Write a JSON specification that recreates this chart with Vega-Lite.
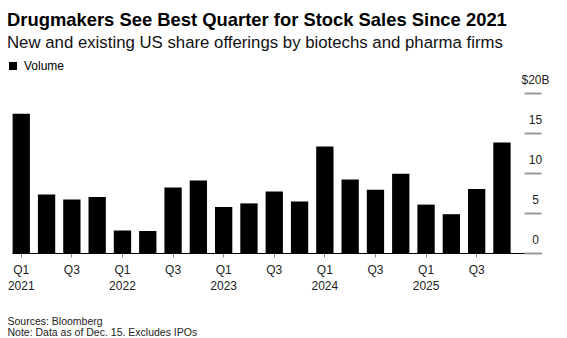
{
  "$schema": "https://vega.github.io/schema/vega-lite/v6.json",
  "width": 529,
  "height": 160,
  "autosize": {"type": "none"},
  "padding": {"left": 12, "top": 93, "right": 26, "bottom": 85},
  "background": "white",
  "config": {"view": {"stroke": null}},
  "title": {
    "text": "Drugmakers See Best Quarter for Stock Sales Since 2021",
    "subtitle": "New and existing US share offerings by biotechs and pharma firms",
    "anchor": "start",
    "frame": "group",
    "font": "Liberation Sans",
    "fontSize": 18.4,
    "fontWeight": "bold",
    "color": "#000000",
    "subtitleFont": "Liberation Sans",
    "subtitleFontSize": 16.8,
    "subtitleColor": "#111111",
    "subtitlePadding": 6,
    "dx": -5,
    "offset": 8
  },
  "data": {
    "values": [
      {"q": "2021 Q1", "v": 17.4},
      {"q": "2021 Q2", "v": 7.3},
      {"q": "2021 Q3", "v": 6.7},
      {"q": "2021 Q4", "v": 7.0},
      {"q": "2022 Q1", "v": 2.8},
      {"q": "2022 Q2", "v": 2.75},
      {"q": "2022 Q3", "v": 8.2},
      {"q": "2022 Q4", "v": 9.05},
      {"q": "2023 Q1", "v": 5.75},
      {"q": "2023 Q2", "v": 6.2},
      {"q": "2023 Q3", "v": 7.7},
      {"q": "2023 Q4", "v": 6.45},
      {"q": "2024 Q1", "v": 13.3},
      {"q": "2024 Q2", "v": 9.2},
      {"q": "2024 Q3", "v": 7.9},
      {"q": "2024 Q4", "v": 9.9},
      {"q": "2025 Q1", "v": 6.05},
      {"q": "2025 Q2", "v": 4.85},
      {"q": "2025 Q3", "v": 8.0},
      {"q": "2025 Q4", "v": 13.8}
    ]
  },
  "mark": {"type": "bar", "fill": "#000000"},
  "encoding": {
    "x": {
      "field": "q",
      "type": "ordinal",
      "sort": null,
      "scale": {"paddingInner": 0.316, "paddingOuter": 0.613, "align": 0.02},
      "axis": {
        "values": ["2021 Q1", "2021 Q3", "2022 Q1", "2022 Q3", "2023 Q1", "2023 Q3", "2024 Q1", "2024 Q3", "2025 Q1", "2025 Q3"],
        "labelExpr": "substring(datum.value, 5) == 'Q1' ? ['Q1', substring(datum.value, 0, 4)] : 'Q3'",
        "labelAngle": 0,
        "domainColor": "#000000",
        "domainWidth": 1.2,
        "tickSize": 4,
        "tickColor": "#888888",
        "tickWidth": 1,
        "labelFont": "Liberation Sans",
        "labelFontSize": 12,
        "labelColor": "#222222",
        "labelLineHeight": 16,
        "labelPadding": 7,
        "title": ["Sources: Bloomberg", "Note: Data as of Dec. 15. Excludes IPOs"],
        "titleFont": "Liberation Sans",
        "titleFontSize": 10.5,
        "titleFontWeight": "normal",
        "titleColor": "#222222",
        "titleAnchor": "start",
        "titleAlign": "left",
        "titleBaseline": "alphabetic",
        "titleLineHeight": 11.5,
        "titleX": -5,
        "titleY": 71
      }
    },
    "y": {
      "field": "v",
      "type": "quantitative",
      "scale": {"domain": [0, 20]},
      "axis": {
        "orient": "right",
        "values": [0, 5, 10, 15, 20],
        "domain": false,
        "grid": false,
        "tickSize": -17,
        "tickColor": "#999999",
        "tickWidth": 2,
        "labelAlign": "center",
        "labelBaseline": "alphabetic",
        "labelOffset": -9.5,
        "labelPadding": 11,
        "labelFont": "Liberation Sans",
        "labelFontSize": 12,
        "labelColor": "#222222",
        "labelExpr": "datum.value == 20 ? '$20B' : datum.label",
        "title": null
      }
    },
    "color": {
      "datum": "Volume",
      "scale": {"range": ["#000000"]},
      "legend": {
        "orient": "none",
        "legendX": -5,
        "legendY": -33,
        "title": null,
        "padding": 0,
        "symbolType": "square",
        "symbolSize": 64,
        "symbolStrokeWidth": 0,
        "labelFont": "Liberation Sans",
        "labelFontSize": 12,
        "labelColor": "#000000",
        "labelOffset": 5
      }
    }
  }
}
